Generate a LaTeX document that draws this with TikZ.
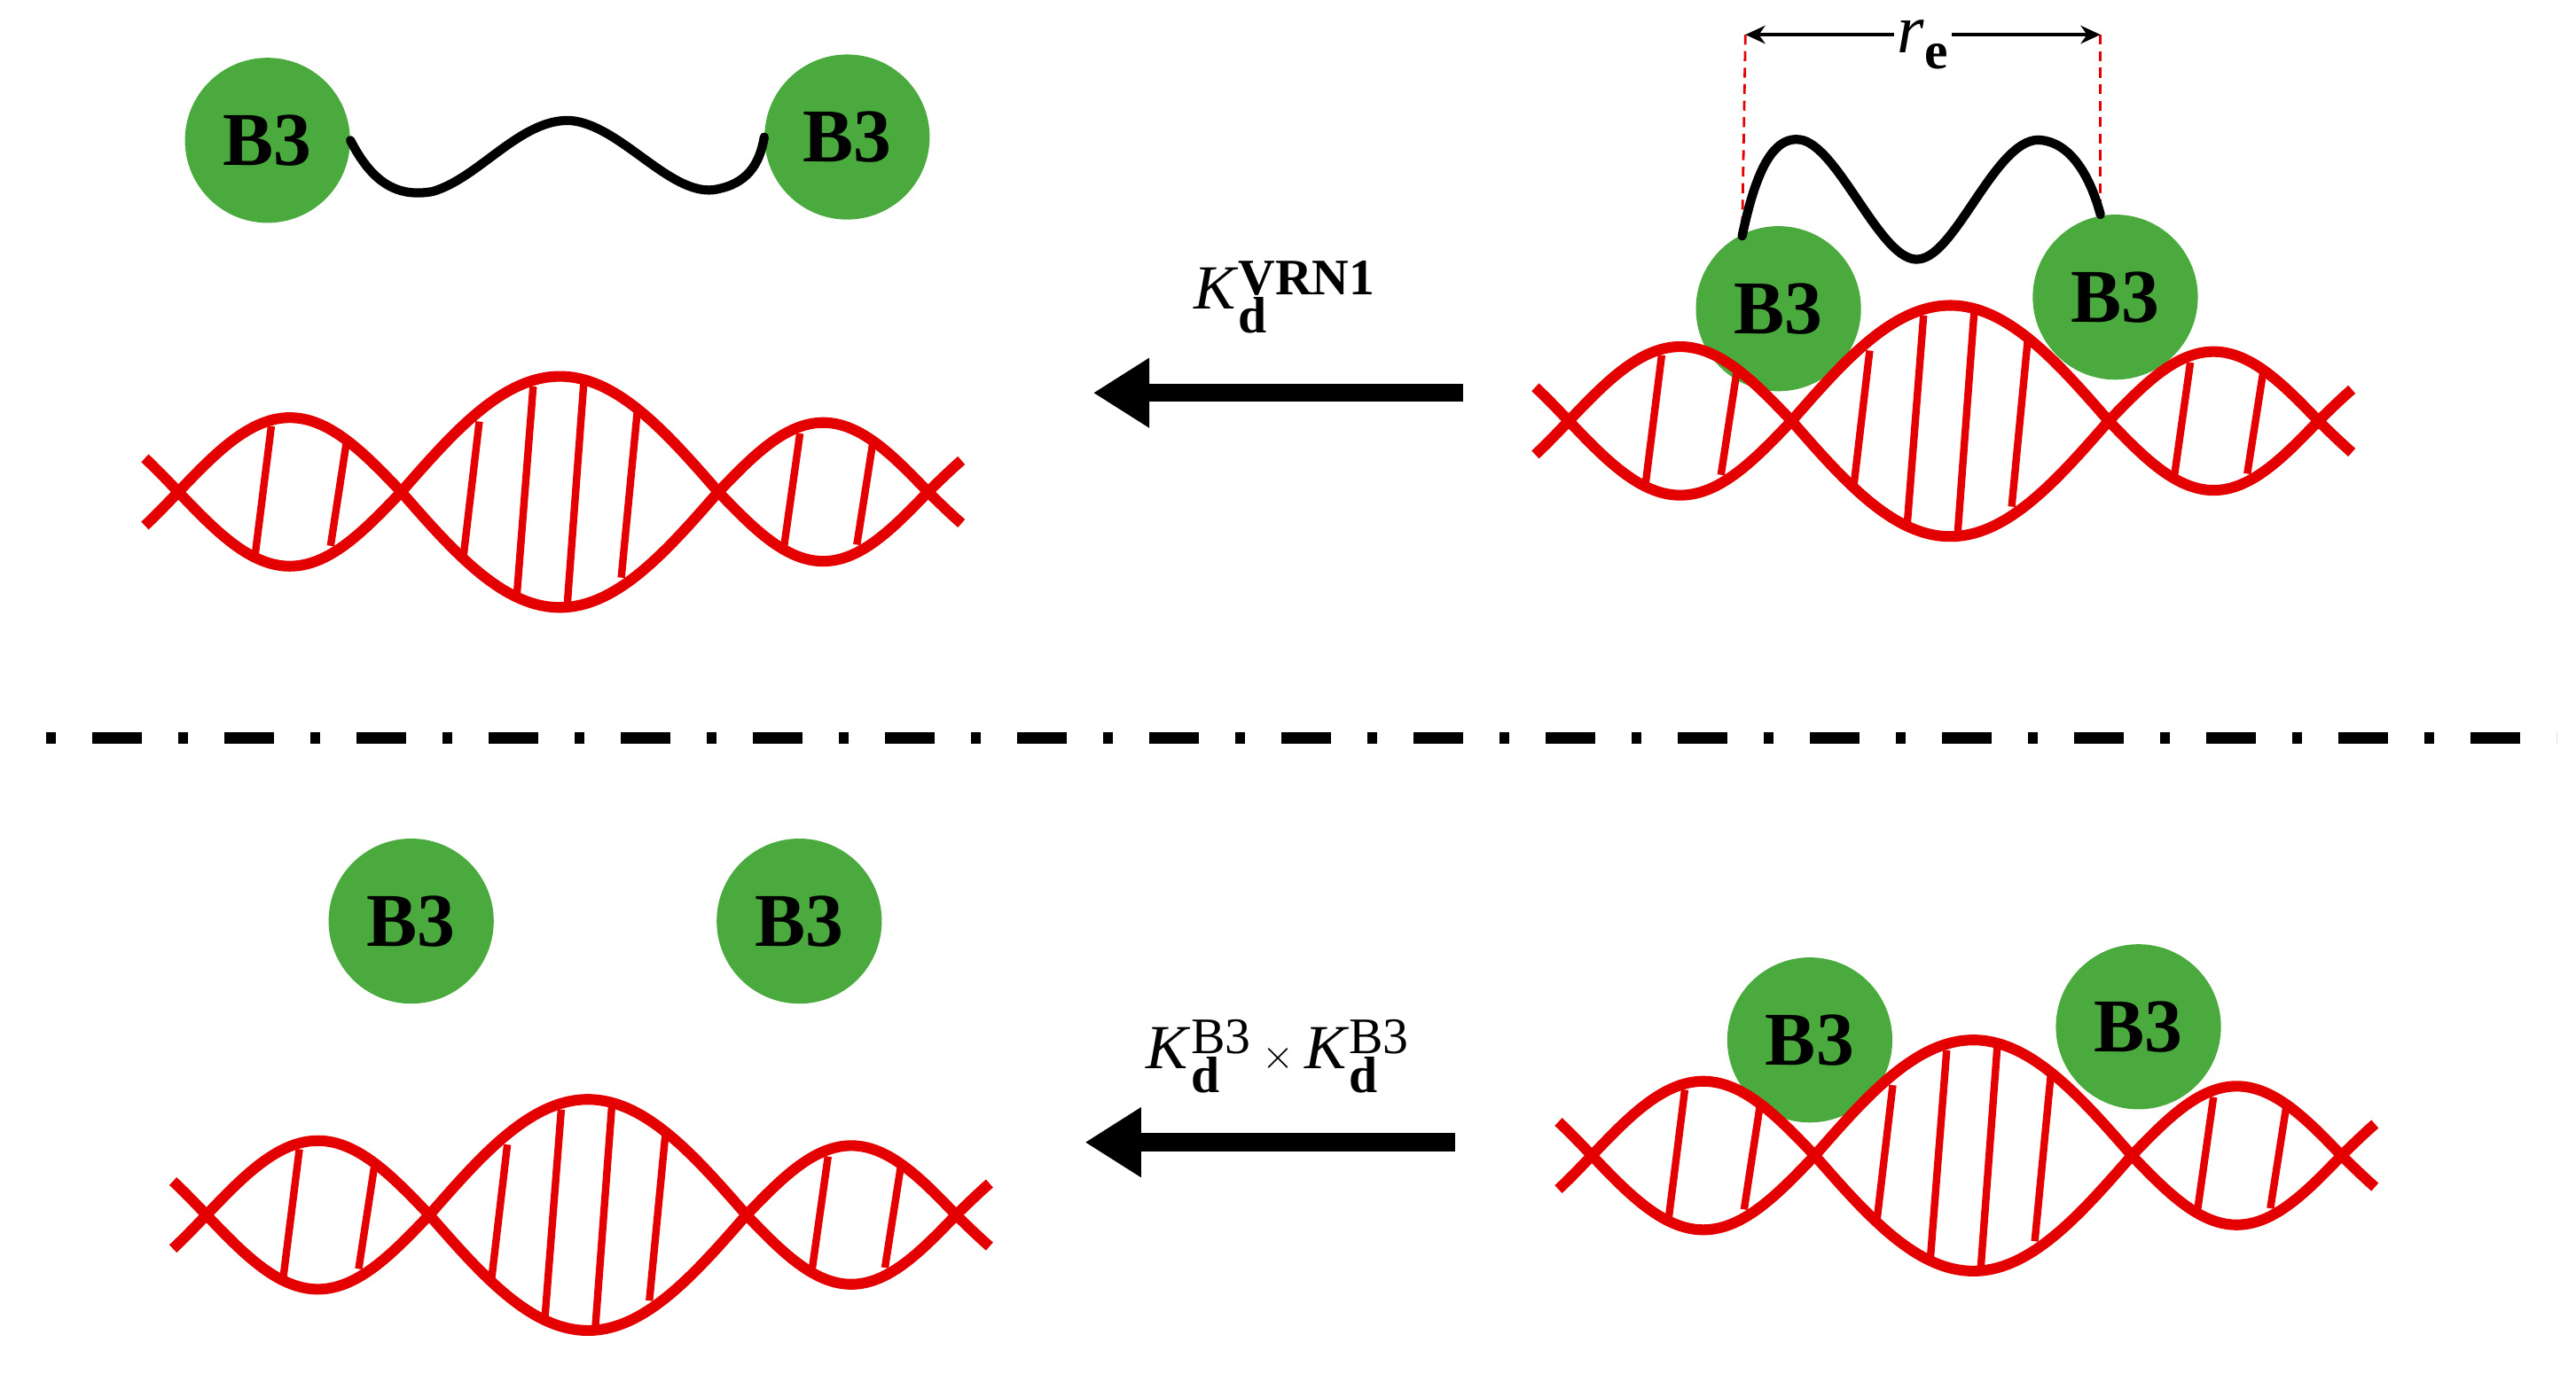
\documentclass[tikz,border=0pt]{standalone}
\usepackage{fontspec}
\setmainfont{Liberation Serif}
\usetikzlibrary{arrows.meta}
\definecolor{bgreen}{RGB}{74,170,62}
\definecolor{dnared}{RGB}{228,0,0}
\tikzset{
  strand/.style={dnared,line width=6.5pt,line cap=butt},
  rung/.style={dnared,line width=4.5pt},
  b3/.style={circle,fill=bgreen,minimum size=100pt,inner sep=0pt,font=\fontsize{46}{46}\selectfont\bfseries},
  linker/.style={black,line width=5.5pt,line cap=round},
  bigarrow/.style={line width=11pt,-{Triangle[length=34pt,width=40pt]}},
  klabel/.style={font=\fontsize{38}{40}\selectfont},
}
\newcommand{\scr}{\fontsize{31}{31}\selectfont}
% lobe: a b amplitude fromfrac tofrac
\newcommand{\mylobe}[5]{%
  \pgfmathsetmacro{\la}{#1+#4*(#2-#1)}\pgfmathsetmacro{\lb}{#1+#5*(#2-#1)}%
  \pgfmathsetmacro{\lk}{180/(#2-#1)}%
  \draw[strand] plot[domain=\la:\lb,samples=40,smooth] (\x,{#3*sin(\lk*(\x-#1))});
  \draw[strand] plot[domain=\la:\lb,samples=40,smooth] (\x,{-#3*sin(\lk*(\x-#1))});}
\newcommand{\myrung}[4]{% a b A frac
  \pgfmathsetmacro{\rx}{#1+#4*(#2-#1)}\pgfmathsetmacro{\ry}{#3*sin(180*#4)-2}%
  \draw[rung] (\rx+5,-\ry) -- (\rx-5,\ry);}
\newcommand{\mydna}[2]{%
  \begin{scope}[shift={(#1,#2)}]
    \mylobe{-367}{-232}{45}{0.85}{1}
    \mylobe{-232}{-97}{45}{0}{1}
    \mylobe{-97}{95}{70}{0}{1}
    \mylobe{95}{222}{42}{0}{1}
    \mylobe{222}{357}{42}{0}{0.15}
    \myrung{-232}{-97}{45}{0.38}\myrung{-232}{-97}{45}{0.72}
    \myrung{-97}{95}{70}{0.22}\myrung{-97}{95}{70}{0.39}\myrung{-97}{95}{70}{0.55}\myrung{-97}{95}{70}{0.72}
    \myrung{95}{222}{42}{0.35}\myrung{95}{222}{42}{0.7}
  \end{scope}}
\begin{document}
\begin{tikzpicture}[x=1pt,y=-1pt]
\useasboundingbox (0,0) rectangle (1560,832);
% top left
\node[b3] (tl1) at (162,85) {B3};
\node[b3] (tl2) at (513,83) {B3};
\draw[linker] (tl1.east) .. controls (225,110) and (240,120) .. (262,116)
  .. controls (290,108) and (315,72) .. (345,73)
  .. controls (375,75) and (405,118) .. (432,115) .. controls (452,112) and (460,100) .. (tl2.west);
\mydna{340}{298}
% top right
\node[b3] (tr1) at (1077,187) {B3};
\node[b3] (tr2) at (1281,180) {B3};
\mydna{1182}{255}
\coordinate (ra) at (1057,21); \coordinate (rb) at (1272,21);
\draw[dnared,line width=1.5pt,dash pattern=on 6pt off 4pt] (ra) -- (1055,143);
\draw[dnared,line width=1.5pt,dash pattern=on 6pt off 4pt] (rb) -- (1272,130);
\draw[linker] (1055,143) .. controls (1062,110) and (1072,80) .. (1092,85)
  .. controls (1115,92) and (1140,160) .. (1162,157)
  .. controls (1185,155) and (1210,80) .. (1237,85)
  .. controls (1258,88) and (1268,115) .. (1272,130);
\draw[line width=1.8pt,{Stealth[length=12pt,width=11pt]}-{Stealth[length=12pt,width=11pt]}] (ra) -- (rb)
  node[midway,yshift=-6pt,fill=white,inner xsep=2pt,inner ysep=0pt,font=\fontsize{42}{42}\selectfont] (re) {\textit{r}\raisebox{-10pt}{\fontsize{32}{32}\selectfont\bfseries e}};
% top arrow
\coordinate (a1s) at (886,238); \coordinate (a1e) at (662,238);
\draw[bigarrow] (a1s) -- (a1e);
\node[klabel] (k1) at (778,180) {\textit{K}$^{\hbox{\scr\bfseries VRN1}}_{\hbox{\scr\bfseries d}}$};
% separator
\coordinate (s1) at (28,447); \coordinate (s2) at (1548,447);
\draw[line width=7pt,dash pattern=on 6pt off 22pt on 30pt off 22pt] (s1) -- (s2);
% bottom left
\node[b3] (bl1) at (249,558) {B3};
\node[b3] (bl2) at (484,558) {B3};
\mydna{357}{736}
% bottom right
\node[b3] (br1) at (1096,630) {B3};
\node[b3] (br2) at (1295,622) {B3};
\mydna{1196}{700}
% bottom arrow
\coordinate (a2s) at (881,692); \coordinate (a2e) at (657,692);
\draw[bigarrow] (a2s) -- (a2e);
\node[klabel] (k2) at (774,640) {\textit{K}$^{\hbox{\scr B3}}_{\hbox{\scr\bfseries d}}$\,$\times$\,\textit{K}$^{\hbox{\scr B3}}_{\hbox{\scr\bfseries d}}$};
\end{tikzpicture}
\end{document}
